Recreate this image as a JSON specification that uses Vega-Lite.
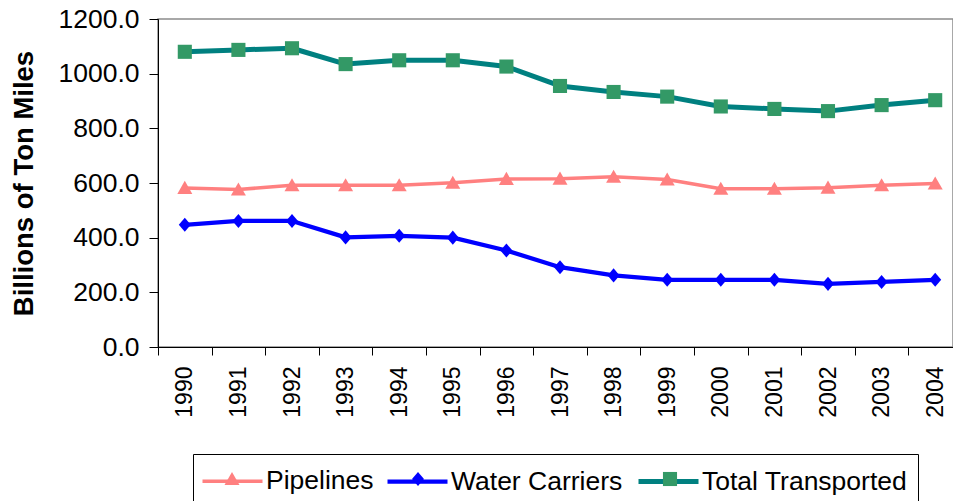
{
  "$schema": "https://vega.github.io/schema/vega-lite/v6.json",
  "autosize": {"type": "none"},
  "padding": {"left": 158, "top": 19, "right": 0, "bottom": 154},
  "width": 795,
  "height": 328,
  "background": "white",
  "config": {"view": {"stroke": "#8c8c8c", "strokeWidth": 1.5}, "font": "Liberation Sans"},
  "data": {"values": [
    {"year": "1990", "series": "Pipelines", "value": 582},
    {"year": "1991", "series": "Pipelines", "value": 576},
    {"year": "1992", "series": "Pipelines", "value": 592},
    {"year": "1993", "series": "Pipelines", "value": 592},
    {"year": "1994", "series": "Pipelines", "value": 592},
    {"year": "1995", "series": "Pipelines", "value": 601},
    {"year": "1996", "series": "Pipelines", "value": 615},
    {"year": "1997", "series": "Pipelines", "value": 616},
    {"year": "1998", "series": "Pipelines", "value": 623},
    {"year": "1999", "series": "Pipelines", "value": 613},
    {"year": "2000", "series": "Pipelines", "value": 579},
    {"year": "2001", "series": "Pipelines", "value": 579},
    {"year": "2002", "series": "Pipelines", "value": 583},
    {"year": "2003", "series": "Pipelines", "value": 592},
    {"year": "2004", "series": "Pipelines", "value": 598},
    {"year": "1990", "series": "Water Carriers", "value": 447},
    {"year": "1991", "series": "Water Carriers", "value": 461},
    {"year": "1992", "series": "Water Carriers", "value": 461},
    {"year": "1993", "series": "Water Carriers", "value": 401},
    {"year": "1994", "series": "Water Carriers", "value": 407},
    {"year": "1995", "series": "Water Carriers", "value": 400},
    {"year": "1996", "series": "Water Carriers", "value": 353},
    {"year": "1997", "series": "Water Carriers", "value": 292},
    {"year": "1998", "series": "Water Carriers", "value": 262},
    {"year": "1999", "series": "Water Carriers", "value": 246},
    {"year": "2000", "series": "Water Carriers", "value": 246},
    {"year": "2001", "series": "Water Carriers", "value": 246},
    {"year": "2002", "series": "Water Carriers", "value": 231},
    {"year": "2003", "series": "Water Carriers", "value": 238},
    {"year": "2004", "series": "Water Carriers", "value": 246},
    {"year": "1990", "series": "Total Transported", "value": 1080},
    {"year": "1991", "series": "Total Transported", "value": 1087},
    {"year": "1992", "series": "Total Transported", "value": 1093},
    {"year": "1993", "series": "Total Transported", "value": 1035},
    {"year": "1994", "series": "Total Transported", "value": 1049},
    {"year": "1995", "series": "Total Transported", "value": 1049},
    {"year": "1996", "series": "Total Transported", "value": 1026},
    {"year": "1997", "series": "Total Transported", "value": 955},
    {"year": "1998", "series": "Total Transported", "value": 933},
    {"year": "1999", "series": "Total Transported", "value": 916},
    {"year": "2000", "series": "Total Transported", "value": 880},
    {"year": "2001", "series": "Total Transported", "value": 871},
    {"year": "2002", "series": "Total Transported", "value": 863},
    {"year": "2003", "series": "Total Transported", "value": 885},
    {"year": "2004", "series": "Total Transported", "value": 903}
  ]},
  "resolve": {"scale": {"shape": "independent"}, "legend": {"shape": "independent"}},
  "layer": [
    {
      "mark": {"type": "line", "strokeJoin": "round"},
      "encoding": {
        "x": {
          "field": "year", "type": "ordinal",
          "scale": {"type": "band", "range": [0, 804], "paddingInner": 0, "paddingOuter": 0},
          "axis": {
            "title": null, "labelAngle": 270, "labelFont": "Liberation Sans", "labelFontSize": 23,
            "labelColor": "black", "labelPadding": 11, "tickSize": 8, "tickColor": "black",
            "domainColor": "black", "tickBand": "extent", "labelOverlap": false
          }
        },
        "y": {
          "field": "value", "type": "quantitative",
          "scale": {"domain": [0, 1200], "nice": false, "zero": true},
          "axis": {
            "values": [0, 200, 400, 600, 800, 1000, 1200], "format": ".1f",
            "title": "Billions of Ton Miles", "titleFont": "Liberation Sans", "titleFontSize": 27.5,
            "titleFontWeight": "bold", "titleColor": "black", "titlePadding": 19,
            "labelFont": "Liberation Sans", "labelFontSize": 26.5, "labelColor": "black",
            "labelPadding": 10, "tickSize": 9, "tickColor": "black", "domainColor": "black",
            "grid": false, "labelFlush": false, "labelOverlap": false
          }
        },
        "stroke": {
          "field": "series", "type": "nominal",
          "scale": {"domain": ["Pipelines", "Water Carriers", "Total Transported"], "range": ["#FF8080", "#0000FF", "#008080"]},
          "legend": {
            "orient": "none", "legendX": 35, "legendY": 435, "zindex": 1,
            "direction": "horizontal", "columns": 3, "columnPadding": 5,
            "padding": 10, "strokeColor": "black", "title": null,
            "symbolType": "M-2,0H2", "symbolSize": 900, "symbolOffset": 12, "labelOffset": 16,
            "symbolStrokeWidth": 5,
            "labelFont": "Liberation Sans", "labelFontSize": 26.5, "labelColor": "black", "labelLimit": 500
          }
        },
        "strokeWidth": {
          "field": "series", "type": "nominal",
          "scale": {"domain": ["Pipelines", "Water Carriers", "Total Transported"], "range": [3.5, 5, 6]},
          "legend": null
        }
      }
    },
    {
      "transform": [{"filter": "datum.series === 'Pipelines'"}],
      "mark": {"type": "point", "filled": true, "opacity": 1, "strokeWidth": 0, "size": 900, "color": "#FF8080"},
      "encoding": {
        "x": {"field": "year", "type": "ordinal"},
        "y": {"field": "value", "type": "quantitative"},
        "shape": {
          "field": "series", "type": "nominal",
          "scale": {"range": ["M-2,0M2,0M0,-0.47L0.5,0.4L-0.5,0.4Z"]},
          "legend": {
            "orient": "none", "legendX": 59, "legendY": 445, "zindex": 2, "title": null,
            "padding": 0, "symbolSize": 900, "symbolOffset": 0, "symbolStrokeWidth": 0,
            "labelExpr": "''", "labelFontSize": 1
          }
        }
      }
    },
    {
      "transform": [{"filter": "datum.series === 'Water Carriers'"}],
      "mark": {"type": "point", "filled": true, "opacity": 1, "strokeWidth": 0, "size": 900, "color": "#0000FF"},
      "encoding": {
        "x": {"field": "year", "type": "ordinal"},
        "y": {"field": "value", "type": "quantitative"},
        "shape": {
          "field": "series", "type": "nominal",
          "scale": {"range": ["M-2,0M2,0M0,-0.47L0.4,0L0,0.47L-0.4,0Z"]},
          "legend": {
            "orient": "none", "legendX": 245, "legendY": 445, "zindex": 2, "title": null,
            "padding": 0, "symbolSize": 900, "symbolOffset": 0, "symbolStrokeWidth": 0,
            "labelExpr": "''", "labelFontSize": 1
          }
        }
      }
    },
    {
      "transform": [{"filter": "datum.series === 'Total Transported'"}],
      "mark": {"type": "point", "filled": true, "opacity": 1, "strokeWidth": 0, "size": 900, "color": "#339966"},
      "encoding": {
        "x": {"field": "year", "type": "ordinal"},
        "y": {"field": "value", "type": "quantitative"},
        "shape": {
          "field": "series", "type": "nominal",
          "scale": {"range": ["M-2,0M2,0M-0.47,-0.47H0.47V0.47H-0.47Z"]},
          "legend": {
            "orient": "none", "legendX": 497, "legendY": 445, "zindex": 2, "title": null,
            "padding": 0, "symbolSize": 900, "symbolOffset": 0, "symbolStrokeWidth": 0,
            "labelExpr": "''", "labelFontSize": 1
          }
        }
      }
    }
  ]
}
